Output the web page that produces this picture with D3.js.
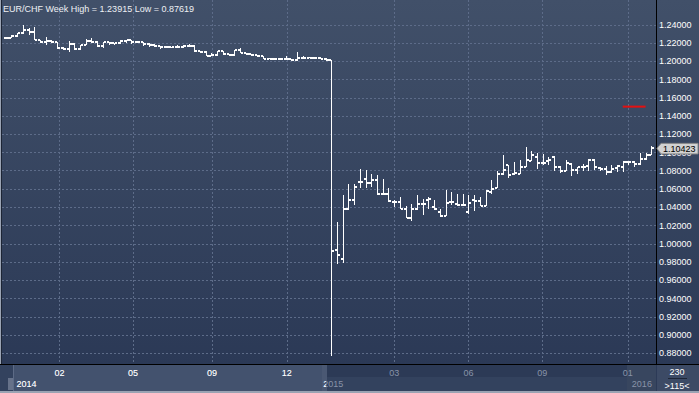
<!DOCTYPE html>
<html>
<head>
<meta charset="utf-8">
<script src="https://cdn.jsdelivr.net/npm/d3@7"></script>
<style>
  body { margin: 0; background: #2c3a57; }
  svg { display: block; font-family: "Liberation Sans", Arial, sans-serif; }
</style>
</head>
<body>
<div class="chart"></div>
<script>
"use strict";

const TITLE = "EUR/CHF Week High = 1.23915 Low = 0.87619";

// weekly OHLC
const open = [
  1.2247, 1.2252, 1.2274, 1.2304, 1.2340, 1.2318, 1.2230, 1.2208, 1.2219, 1.2203,
  1.2142, 1.2128, 1.2186, 1.2132, 1.2175, 1.2219, 1.2208, 1.2164, 1.2208, 1.2197,
  1.2192, 1.2219, 1.2225, 1.2208, 1.2208, 1.2186, 1.2175, 1.2164, 1.2153, 1.2153,
  1.2153, 1.2153, 1.2164, 1.2161, 1.2110, 1.2104, 1.2055, 1.2063, 1.2110, 1.2073,
  1.2063, 1.2117, 1.2088, 1.2073, 1.2063, 1.2052, 1.2025, 1.2025, 1.2025, 1.2025,
  1.2019, 1.2008, 1.2036, 1.2036, 1.2036, 1.2036, 1.2025, 1.2014, 0.9926, 0.9827,
  1.0378, 1.0473, 1.0674, 1.0710, 1.0666, 1.0693, 1.0546, 1.0546, 1.0455, 1.0455,
  1.0381, 1.0279, 1.0375, 1.0436, 1.0473, 1.0400, 1.0345, 1.0301, 1.0455, 1.0436,
  1.0425, 1.0345, 1.0473, 1.0463, 1.0411, 1.0564, 1.0608, 1.0762, 1.0857, 1.0765,
  1.0762, 1.0842, 1.0907, 1.0945, 1.0882, 1.0901, 1.0945, 1.0835, 1.0791, 1.0871,
  1.0809, 1.0835, 1.0846, 1.0918, 1.0827, 1.0820, 1.0784, 1.0827, 1.0835, 1.0893,
  1.0893, 1.0871, 1.0929, 1.0973
];
const high = [
  1.2263, 1.2285, 1.2312, 1.23915, 1.2362, 1.2373, 1.2230, 1.2266, 1.2225, 1.2203,
  1.2148, 1.2222, 1.2192, 1.2175, 1.2241, 1.2252, 1.2222, 1.2211, 1.2211, 1.2201,
  1.2230, 1.2230, 1.2230, 1.2222, 1.2208, 1.2194, 1.2186, 1.2164, 1.2164, 1.2157,
  1.2175, 1.2175, 1.2186, 1.2170, 1.2115, 1.2110, 1.2088, 1.2110, 1.2110, 1.2077,
  1.2121, 1.2142, 1.2093, 1.2077, 1.2066, 1.2055, 1.2033, 1.2036, 1.2036, 1.2052,
  1.2022, 1.2099, 1.2055, 1.2044, 1.2044, 1.2044, 1.2036, 1.2016, 1.0236, 1.0528,
  1.0652, 1.0655, 1.0813, 1.0806, 1.0765, 1.0747, 1.0710, 1.0608, 1.0473, 1.0510,
  1.0411, 1.0436, 1.0528, 1.0484, 1.0510, 1.0473, 1.0381, 1.0583, 1.0564, 1.0546,
  1.0546, 1.0528, 1.0528, 1.0510, 1.0583, 1.0696, 1.0798, 1.0967, 1.0857, 1.0893,
  1.0918, 1.1054, 1.1010, 1.0992, 1.0981, 1.0945, 1.0956, 1.0846, 1.0918, 1.0882,
  1.0835, 1.0871, 1.0929, 1.0929, 1.0835, 1.0846, 1.0857, 1.0857, 1.0901, 1.0907,
  1.0901, 1.0992, 1.0992, 1.1065
];
const low = [
  1.2236, 1.2247, 1.2268, 1.2293, 1.2285, 1.2230, 1.2201, 1.2175, 1.2197, 1.2128,
  1.2121, 1.2102, 1.2126, 1.2126, 1.2170, 1.2201, 1.2157, 1.2139, 1.2175, 1.2175,
  1.2186, 1.2201, 1.2186, 1.2194, 1.2164, 1.2157, 1.2150, 1.2128, 1.2139, 1.2148,
  1.2139, 1.2139, 1.2150, 1.2099, 1.2093, 1.2052, 1.2052, 1.2052, 1.2063, 1.2060,
  1.2060, 1.2088, 1.2063, 1.2052, 1.2044, 1.2025, 1.2019, 1.2008, 1.2008, 1.2008,
  1.2003, 1.2005, 1.2025, 1.2030, 1.2025, 1.2019, 1.2000, 0.87619, 0.9779, 0.9790,
  1.0367, 1.0419, 1.0608, 1.0608, 1.0619, 1.0528, 1.0535, 1.0455, 1.0400, 1.0381,
  1.0279, 1.0243, 1.0372, 1.0309, 1.0381, 1.0363, 1.0290, 1.0298, 1.0425, 1.0411,
  1.0411, 1.0326, 1.0352, 1.0411, 1.0411, 1.0546, 1.0608, 1.0754, 1.0718, 1.0754,
  1.0762, 1.0835, 1.0901, 1.0820, 1.0864, 1.0864, 1.0798, 1.0773, 1.0791, 1.0736,
  1.0762, 1.0791, 1.0791, 1.0809, 1.0798, 1.0754, 1.0773, 1.0784, 1.0784, 1.0864,
  1.0835, 1.0864, 1.0918, 1.0973
];
const close = [
  1.2252, 1.2274, 1.2304, 1.2340, 1.2318, 1.2230, 1.2208, 1.2219, 1.2203, 1.2142,
  1.2128, 1.2186, 1.2132, 1.2175, 1.2219, 1.2208, 1.2164, 1.2208, 1.2197, 1.2192,
  1.2219, 1.2225, 1.2208, 1.2208, 1.2186, 1.2175, 1.2164, 1.2153, 1.2153, 1.2153,
  1.2153, 1.2164, 1.2161, 1.2110, 1.2104, 1.2055, 1.2063, 1.2110, 1.2073, 1.2063,
  1.2117, 1.2088, 1.2073, 1.2063, 1.2052, 1.2025, 1.2025, 1.2025, 1.2025, 1.2019,
  1.2008, 1.2036, 1.2036, 1.2036, 1.2036, 1.2025, 1.2014, 0.9915, 0.9877, 1.0375,
  1.0477, 1.0619, 1.0674, 1.0666, 1.0693, 1.0546, 1.0546, 1.0463, 1.0455, 1.0381,
  1.0279, 1.0375, 1.0436, 1.0436, 1.0491, 1.0381, 1.0301, 1.0447, 1.0455, 1.0425,
  1.0425, 1.0447, 1.0463, 1.0411, 1.0572, 1.0600, 1.0762, 1.0809, 1.0754, 1.0773,
  1.0842, 1.0918, 1.0973, 1.0882, 1.0882, 1.0918, 1.0835, 1.0798, 1.0882, 1.0809,
  1.0835, 1.0835, 1.0918, 1.0835, 1.0820, 1.0784, 1.0820, 1.0846, 1.0893, 1.0893,
  1.0871, 1.0929, 1.0973, 1.10423
];

const yTicks = [1.24, 1.22, 1.20, 1.18, 1.16, 1.14, 1.12, 1.10, 1.08, 1.06,
  1.04, 1.02, 1.00, 0.98, 0.96, 0.94, 0.92, 0.90, 0.88];
// month labels and the week (bar index) where each one sits
const monthLabels = ["02", "05", "09", "12", "03", "06", "09", "01"];
const monthWeeks = [9.4, 22.3, 36.1, 49.2, 68, 81, 93.9, 108.9];
const yearLabels = ["2014", "2015", "2016"];
const yearWeeks = [1.9, 55.6, 109.6];
const alertLevel = 1.15, alertFrom = 108, alertTo = 112;
const barCount = "230", barZoom = ">115<";

const W = 699, H = 393;
const PLOT = { left: 2, right: 656, top: 0, bottom: 364 };

const xScale = d3.scaleLinear().domain([0, open.length - 1]).range([5.7, 651.3]);
const yScale = d3.scaleLinear().domain([0.88, 1.24]).range([353, 24.5]);
const fmt = d3.format(".5f");

const svg = d3.select(".chart").append("svg").attr("width", W).attr("height", H);

const defs = svg.append("defs");
const grad = defs.append("linearGradient").attr("id", "bg")
  .attr("x1", 0).attr("y1", 0).attr("x2", 0).attr("y2", 1);
grad.append("stop").attr("offset", "0%").attr("stop-color", "#415069");
grad.append("stop").attr("offset", "100%").attr("stop-color", "#2b3956");
defs.append("clipPath").attr("id", "win").append("rect")
  .attr("x", 13).attr("y", 364).attr("width", 313).attr("height", 30);

// backgrounds
svg.append("rect").attr("width", W).attr("height", PLOT.bottom).attr("fill", "url(#bg)");
svg.append("rect").attr("x", 0).attr("width", 1).attr("height", H).attr("fill", "#9aa3b3");
svg.append("rect").attr("x", 1).attr("width", 1).attr("height", H).attr("fill", "#1d2535");

// grid
const grid = svg.append("g").attr("stroke", "#5d6c89").attr("stroke-dasharray", "2,2");
grid.selectAll(".hg").data(yTicks).enter().append("line")
  .attr("x1", PLOT.left).attr("x2", PLOT.right)
  .attr("y1", (d) => Math.round(yScale(d)) + 0.5)
  .attr("y2", (d) => Math.round(yScale(d)) + 0.5);
grid.selectAll(".vg").data(monthWeeks).enter().append("line")
  .attr("y1", 0).attr("y2", PLOT.bottom)
  .attr("x1", (d) => Math.round(xScale(d)) + 0.5)
  .attr("x2", (d) => Math.round(xScale(d)) + 0.5);

// OHLC bars
const bars = svg.append("g").attr("fill", "#ffffff").attr("shape-rendering", "crispEdges");
const idx = d3.range(open.length);
bars.selectAll(".hl").data(idx).enter().append("rect")
  .attr("x", (i) => Math.round(xScale(i)))
  .attr("y", (i) => Math.round(yScale(high[i])))
  .attr("width", 1)
  .attr("height", (i) => Math.max(1, Math.round(yScale(low[i])) - Math.round(yScale(high[i]))));
bars.selectAll(".op").data(idx).enter().append("rect")
  .attr("x", (i) => Math.round(xScale(i)) - 2)
  .attr("y", (i) => Math.round(yScale(open[i])) - 1)
  .attr("width", 2).attr("height", 2);
bars.selectAll(".cl").data(idx).enter().append("rect")
  .attr("x", (i) => Math.round(xScale(i)) + 1)
  .attr("y", (i) => Math.round(yScale(close[i])) - 1)
  .attr("width", 2).attr("height", 2);

// red level
svg.append("line")
  .attr("x1", xScale(alertFrom)).attr("x2", xScale(alertTo))
  .attr("y1", yScale(alertLevel)).attr("y2", yScale(alertLevel))
  .attr("stroke", "#e41010").attr("stroke-width", 2);

svg.append("text").attr("x", 3).attr("y", 11.5)
  .attr("fill", "#eef0f4").style("font-size", "9px").text(TITLE);

// right price axis
svg.append("rect").attr("x", 656).attr("width", 1).attr("height", PLOT.bottom).attr("fill", "#000");
svg.append("g").selectAll("text").data(yTicks).enter().append("text")
  .attr("x", 659).attr("y", (d) => yScale(d) + 3.3)
  .attr("fill", "#ffffff").style("font-size", "9px").text((d) => fmt(d));

const last = close[close.length - 1];
const ly = yScale(last);
svg.append("path")
  .attr("d", `M657,${ly} L661,${ly - 5} L698,${ly - 5} L698,${ly + 5.5} L661,${ly + 5.5} Z`)
  .attr("fill", "#d2d2d2").attr("stroke", "#8c8c8c");
svg.append("text").attr("x", 663).attr("y", ly + 3.3)
  .attr("fill", "#000").style("font-size", "9px").text(fmt(last));

// bottom time band
const band = svg.append("g");
band.append("rect").attr("y", 364).attr("width", W).attr("height", 1).attr("fill", "#000");
band.append("rect").attr("y", 365).attr("width", 656).attr("height", 26).attr("fill", "#33425e");
band.append("rect").attr("x", 327).attr("y", 365).attr("width", 300).attr("height", 12).attr("fill", "#2c3a56");
band.append("rect").attr("x", 627).attr("y", 365).attr("width", 29).attr("height", 26).attr("fill", "#38465f");
band.append("rect").attr("x", 13).attr("y", 365).attr("width", 309).attr("height", 26).attr("fill", "#43526e");
band.append("rect").attr("x", 13).attr("y", 365).attr("width", 1).attr("height", 26).attr("fill", "#5d6b86");
band.append("rect").attr("x", 322).attr("y", 365).attr("width", 5).attr("height", 26).attr("fill", "#4a5873");
band.append("rect").attr("x", 8).attr("y", 378).attr("width", 5).attr("height", 12).attr("fill", "#66728a");
band.append("rect").attr("y", 391).attr("width", W).attr("height", 2).attr("fill", "#9aa3b3");

const labelRow = (g, fill) => {
  g.selectAll(".m").data(monthLabels).enter().append("text")
    .attr("x", (d, i) => xScale(monthWeeks[i])).attr("y", 375.5)
    .attr("text-anchor", "middle").attr("fill", fill).style("font-size", "9px").text((d) => d);
  g.selectAll(".y").data(yearLabels).enter().append("text")
    .attr("x", (d, i) => xScale(yearWeeks[i])).attr("y", 387)
    .attr("fill", fill).style("font-size", "9px").text((d) => d);
};
labelRow(band.append("g"), "#8893a8");
labelRow(band.append("g").attr("clip-path", "url(#win)"), "#ffffff");

// corner box
svg.append("rect").attr("x", 657).attr("y", 365).attr("width", 42).attr("height", 26).attr("fill", "#3c4a65");
svg.append("text").attr("x", 677).attr("y", 374.5).attr("text-anchor", "middle")
  .attr("fill", "#fff").style("font-size", "9px").text(barCount);
svg.append("rect").attr("x", 668).attr("y", 378).attr("width", 19).attr("height", 1).attr("fill", "#1e2637");
svg.append("text").attr("x", 677).attr("y", 389).attr("text-anchor", "middle")
  .attr("fill", "#fff").style("font-size", "9px").text(barZoom);
</script>
</body>
</html>
